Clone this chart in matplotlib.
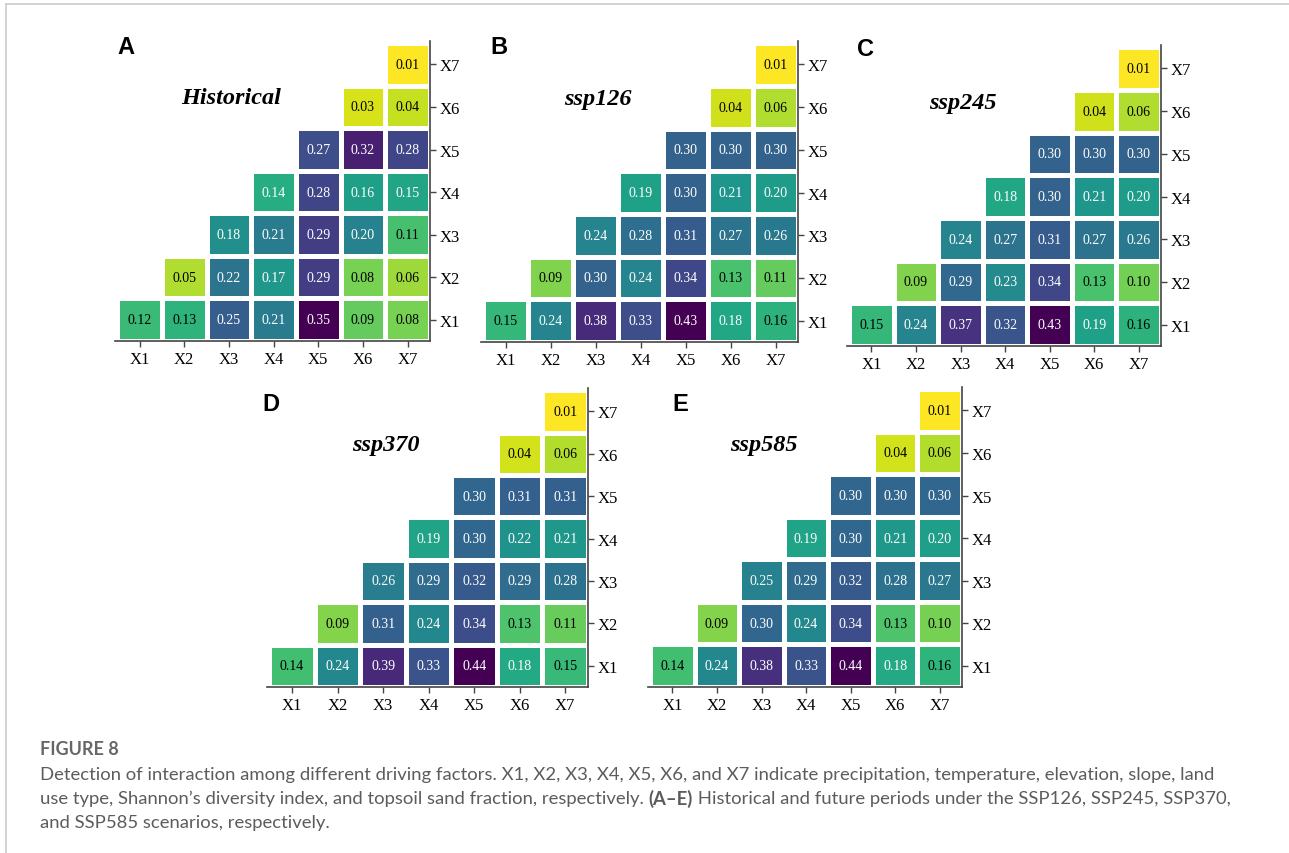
import matplotlib
matplotlib.use('Agg')

import matplotlib.pyplot as plt
import numpy as np
from matplotlib.lines import Line2D

factors = ["X1", "X2", "X3", "X4", "X5", "X6", "X7"]

# rows are X1 (bottom) .. X7 (top), values listed from the diagonal to X7
historical = [[0.12, 0.13, 0.25, 0.21, 0.35, 0.09, 0.08],
              [0.05, 0.22, 0.17, 0.29, 0.08, 0.06],
              [0.18, 0.21, 0.29, 0.20, 0.11],
              [0.14, 0.28, 0.16, 0.15],
              [0.27, 0.32, 0.28],
              [0.03, 0.04],
              [0.01]]
ssp126 = [[0.15, 0.24, 0.38, 0.33, 0.43, 0.18, 0.16],
          [0.09, 0.30, 0.24, 0.34, 0.13, 0.11],
          [0.24, 0.28, 0.31, 0.27, 0.26],
          [0.19, 0.30, 0.21, 0.20],
          [0.30, 0.30, 0.30],
          [0.04, 0.06],
          [0.01]]
ssp245 = [[0.15, 0.24, 0.37, 0.32, 0.43, 0.19, 0.16],
          [0.09, 0.29, 0.23, 0.34, 0.13, 0.10],
          [0.24, 0.27, 0.31, 0.27, 0.26],
          [0.18, 0.30, 0.21, 0.20],
          [0.30, 0.30, 0.30],
          [0.04, 0.06],
          [0.01]]
ssp370 = [[0.14, 0.24, 0.39, 0.33, 0.44, 0.18, 0.15],
          [0.09, 0.31, 0.24, 0.34, 0.13, 0.11],
          [0.26, 0.29, 0.32, 0.29, 0.28],
          [0.19, 0.30, 0.22, 0.21],
          [0.30, 0.31, 0.31],
          [0.04, 0.06],
          [0.01]]
ssp585 = [[0.14, 0.24, 0.38, 0.33, 0.44, 0.18, 0.16],
          [0.09, 0.30, 0.24, 0.34, 0.13, 0.10],
          [0.25, 0.29, 0.32, 0.28, 0.27],
          [0.19, 0.30, 0.21, 0.20],
          [0.30, 0.30, 0.30],
          [0.04, 0.06],
          [0.01]]

panels = [("A", "Historical", historical),
          ("B", "ssp126", ssp126),
          ("C", "ssp245", ssp245),
          ("D", "ssp370", ssp370),
          ("E", "ssp585", ssp585)]

W, H = 1289, 854
fig = plt.figure(figsize=(W / 100, H / 100), dpi=100)

# axes boxes in pixels: left, top, right, bottom
boxes = [(115, 42, 430, 342), (481, 42, 798, 343), (847, 46, 1161, 347),
         (267, 389, 588, 688), (648, 388, 962, 688)]
letter_pos = [(117, 48), (490, 47), (857, 50), (262, 405), (672, 405)]

serif = ["Liberation Serif", "DejaVu Serif"]
cmap = plt.get_cmap("viridis_r")

for (letter, title, rows), (l, t, r, b), (lx, ly) in zip(panels, boxes, letter_pos):
    ax = fig.add_axes([l / W, 1 - b / H, (r - l) / W, (b - t) / H])
    n = len(factors)
    grid = np.full((n, n), np.nan)
    for i, row in enumerate(rows):
        grid[i, i:] = row
    vals = grid[~np.isnan(grid)]
    vmin, vmax = vals.min(), vals.max()
    m = np.ma.masked_invalid(grid)
    ax.pcolormesh(np.arange(n + 1) - 0.5, np.arange(n + 1) - 0.5, m,
                  cmap=cmap, vmin=vmin, vmax=vmax,
                  edgecolors="white", linewidth=2.5)
    for i in range(n):
        for j in range(i, n):
            v = grid[i, j]
            frac = (v - vmin) / (vmax - vmin)
            col = "black" if frac < 0.36 else "white"
            ax.text(j, i, f"{v:.2f}", ha="center", va="center",
                    fontsize=10, color=col, family=serif)
    ax.set_xlim(-0.55, n - 0.5)
    ax.set_ylim(-0.5, n - 0.45)
    ax.set_xticks(range(n))
    ax.set_xticklabels(factors)
    ax.set_yticks(range(n))
    ax.set_yticklabels(factors)
    ax.yaxis.tick_right()
    for s in ["top", "left"]:
        ax.spines[s].set_visible(False)
    for s in ["bottom", "right"]:
        ax.spines[s].set_color("#444444")
        ax.spines[s].set_linewidth(1.2)
    ax.tick_params(length=4, width=1, color="#444444", labelsize=12, pad=3)
    for lab in ax.get_xticklabels() + ax.get_yticklabels():
        lab.set_family(serif)
    ax.text(0.37, 0.81, title, transform=ax.transAxes, ha="center", va="center",
            fontsize=17.5, fontweight="bold", fontstyle="italic", family=serif)
    fig.text(lx / W, 1 - ly / H, letter, ha="left", va="center",
             fontsize=17, fontweight="bold", family=["Liberation Sans", "DejaVu Sans"])

# page frame lines
fig.add_artist(Line2D([6 / W, 1], [1 - 5 / H, 1 - 5 / H], color="#cccccc", lw=1.2))
fig.add_artist(Line2D([6 / W, 6 / W], [0, 1 - 5 / H], color="#cccccc", lw=1.2))

# caption
cap_font = ["Lato", "DejaVu Sans"]
gray = "#5c5c5c"
cap_size = 13.3
x0 = 40 / W
fig.text(x0, 1 - 750 / H, "FIGURE 8", fontsize=13, fontweight="bold",
         color="#666666", family=cap_font, va="center")
line1 = ("Detection of interaction among different driving factors. X1, X2, X3, X4, X5, X6, "
         "and X7 indicate precipitation, temperature, elevation, slope, land")
fig.text(x0, 1 - 775 / H, line1, fontsize=cap_size, color=gray, family=cap_font, va="center")

renderer = fig.canvas.get_renderer()
parts = [("use type, Shannon\u2019s diversity index, and topsoil sand fraction, respectively. ", "normal"),
         ("(A\u2013E)", "bold"),
         (" Historical and future periods under the SSP126, SSP245, SSP370,", "normal")]
x = x0
for txt, wt in parts:
    t = fig.text(x, 1 - 799 / H, txt, fontsize=cap_size, color=gray, family=cap_font,
                 va="center", fontweight=wt)
    bb = t.get_window_extent(renderer=renderer)
    x = bb.x1 / W
fig.text(x0, 1 - 823 / H, "and SSP585 scenarios, respectively.", fontsize=cap_size,
         color=gray, family=cap_font, va="center")

fig.savefig("out.png", dpi=100)
